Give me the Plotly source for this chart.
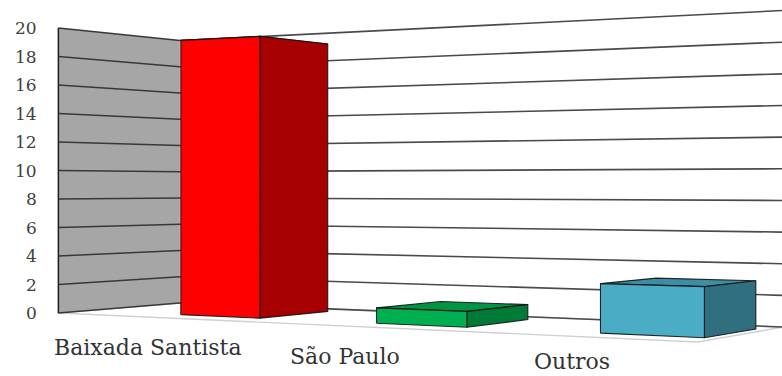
import numpy as np
import plotly.graph_objects as go

# ---------------- data ----------------
categories = ["Baixada Santista", "São Paulo", "Outros"]
values = [19, 1, 3]
tick_values = [0, 2, 4, 6, 8, 10, 12, 14, 16, 18, 20]
value_max = 20

# ---------------- colours ----------------
front_colors = ["#ff0000", "#00b050", "#4bacc6"]
side_colors = ["#a60000", "#007a37", "#2f6f80"]
top_colors = ["#c80000", "#009443", "#3b8ea6"]
wall_color = "#a6a6a6"
label_color = "#333333"

# ---------------- 3-D chart box (category units) ----------------
FLOOR_DEPTH = 0.86          # depth of floor / side wall
BAR_X0, BAR_X1 = 0.524, 0.944   # bar extent inside each category slot
BAR_Y0, BAR_Y1 = 0.195, 0.71    # bar extent along the depth axis
BOX_HEIGHT = 1.2484         # world height of the value axis (0..value_max)
N_CAT = len(categories)

# ---------------- perspective camera ----------------
W_PX, H_PX = 782, 376
FOCAL = 1938.0
CX, CY = 391.0, 186.0
YAW = np.radians(31.75)
EYE = np.array([5.706, -6.452, 0.5563])
COS, SIN = np.cos(YAW), np.sin(YAW)


def project(x, y, val):
    """Map (category position, depth, value) to page pixel coordinates."""
    x = np.atleast_1d(np.asarray(x, dtype=float))
    y = np.atleast_1d(np.asarray(y, dtype=float))
    z = np.atleast_1d(np.asarray(val, dtype=float)) * BOX_HEIGHT / value_max
    qx, qy, qz = x - EYE[0], y - EYE[1], z - EYE[2]
    cam_x = qx * COS + qy * SIN
    cam_z = -qx * SIN + qy * COS
    return CX + FOCAL * cam_x / cam_z, CY - FOCAL * qz / cam_z


def polygon(pts, fill, line_color="rgba(0,0,0,0)", line_width=0):
    xs, ys, vs = zip(*pts)
    u, v = project(xs, ys, vs)
    return go.Scatter(
        x=list(u) + [u[0]], y=list(v) + [v[0]], mode="lines",
        fill="toself", fillcolor=fill,
        line=dict(color=line_color, width=line_width),
        hoverinfo="skip", showlegend=False,
    )


def segment(p0, p1, color, width):
    u, v = project([p0[0], p1[0]], [p0[1], p1[1]], [p0[2], p1[2]])
    return go.Scatter(
        x=list(u), y=list(v), mode="lines",
        line=dict(color=color, width=width),
        hoverinfo="skip", showlegend=False,
    )


fig = go.Figure()
D = FLOOR_DEPTH
XR = float(N_CAT)

# floor
fig.add_trace(polygon([(0, 0, 0), (XR, 0, 0), (XR, D, 0), (0, D, 0)],
                      "#ffffff", "#d0d0d0", 1.4))
# side wall
fig.add_trace(polygon([(0, 0, 0), (0, D, 0), (0, D, value_max), (0, 0, value_max)],
                      wall_color))

# gridlines on side wall and back wall
for t in tick_values:
    fig.add_trace(segment((0, 0, t), (0, D, t), "#383838", 1.5))
    fig.add_trace(segment((0, D, t), (XR, D, t), "#4a4a4a", 1.6))
fig.add_trace(segment((0, 0, 0), (0, 0, value_max), "#1e1e1e", 1.5))

# bars: top, right side, front
edge = "rgba(20,20,20,0.9)"
for i, val in enumerate(values):
    x0, x1 = i + BAR_X0, i + BAR_X1
    y0, y1 = BAR_Y0, BAR_Y1
    fig.add_trace(polygon([(x0, y0, val), (x1, y0, val), (x1, y1, val), (x0, y1, val)],
                          top_colors[i], edge, 1.1))
    fig.add_trace(polygon([(x1, y0, 0), (x1, y1, 0), (x1, y1, val), (x1, y0, val)],
                          side_colors[i], edge, 1.1))
    fig.add_trace(polygon([(x0, y0, 0), (x1, y0, 0), (x1, y0, val), (x0, y0, val)],
                          front_colors[i], edge, 1.1))

annotations = []
# value axis labels along the front edge of the side wall
for t in tick_values:
    u, v = project(0, 0, t)
    annotations.append(dict(
        x=u[0] - 19, y=v[0], xref="x", yref="y", text=str(t),
        showarrow=False, xanchor="right", yanchor="middle",
        font=dict(family="DejaVu Serif", size=17, color="#404040"),
    ))
# category labels under the front edge of the floor
for i, name in enumerate(categories):
    u, v = project(i + 0.5, 0, 0)
    annotations.append(dict(
        x=u[0], y=min(v[0] + 45, H_PX), xref="x", yref="y", text=name,
        showarrow=False, xanchor="center", yanchor="bottom",
        font=dict(family="DejaVu Serif", size=22, color=label_color),
    ))

fig.update_layout(
    width=W_PX, height=H_PX,
    margin=dict(l=0, r=0, t=0, b=0),
    paper_bgcolor="#ffffff", plot_bgcolor="#ffffff",
    xaxis=dict(range=[0, W_PX], visible=False, fixedrange=True),
    yaxis=dict(range=[H_PX, 0], visible=False, fixedrange=True),
    annotations=annotations,
    showlegend=False,
    hovermode=False,
)

fig.write_html("out.html")
